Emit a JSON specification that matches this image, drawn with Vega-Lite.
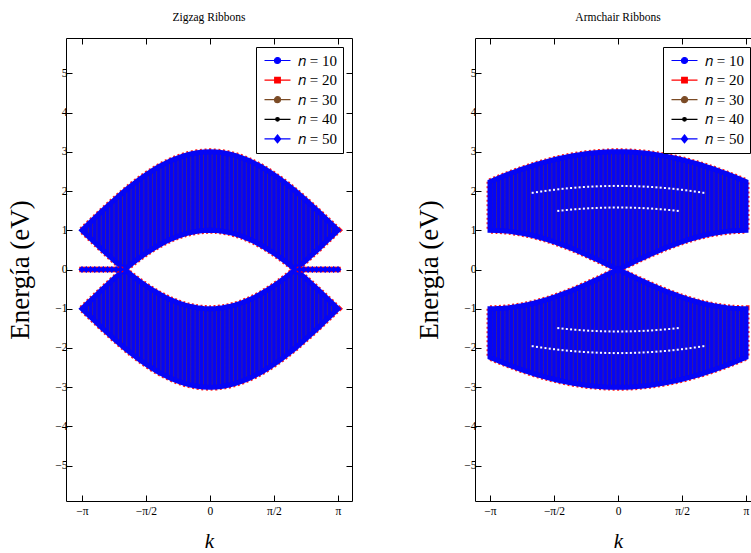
{
  "$schema": "https://vega.github.io/schema/vega-lite/v6.json",
  "background": "white",
  "padding": {"left": 6, "top": 12, "right": 0, "bottom": 0},
  "spacing": 62,
  "config": {
    "view": {"stroke": null},
    "font": "Liberation Serif",
    "axis": {"grid": false, "domainColor": "#000", "domainWidth": 1, "tickColor": "#000", "tickWidth": 1, "labelColor": "#000", "titleColor": "#000", "labelFontSize": 11.5, "titleFontWeight": "normal", "labelFont": "Liberation Serif", "titleFont": "Liberation Serif"},
    "title": {"font": "Liberation Serif", "fontSize": 11.5, "fontWeight": "normal", "color": "#000", "offset": 14},
    "legend": {"padding": 6, "rowPadding": 3.6, "strokeColor": "#000", "strokeWidth": 1, "fillColor": "#fff", "labelFont": "Liberation Serif", "labelFontSize": 15, "labelColor": "#000", "symbolSize": 64, "symbolStrokeWidth": 1.2, "symbolOpacity": 1, "labelOffset": 21},
    "area": {
      "fill": {"gradient": "linear", "x1": 0, "y1": 0, "x2": 1, "y2": 0, "stops": [
          {"offset": 0.0, "color": "#0505f5"},
          {"offset": 0.0048, "color": "#0505f5"}, {"offset": 0.0083, "color": "#3a1f8f"}, {"offset": 0.0118, "color": "#0505f5"},
          {"offset": 0.0215, "color": "#0505f5"}, {"offset": 0.0250, "color": "#3a1f8f"}, {"offset": 0.0285, "color": "#0505f5"},
          {"offset": 0.0382, "color": "#0505f5"}, {"offset": 0.0417, "color": "#3a1f8f"}, {"offset": 0.0452, "color": "#0505f5"},
          {"offset": 0.0548, "color": "#0505f5"}, {"offset": 0.0583, "color": "#3a1f8f"}, {"offset": 0.0618, "color": "#0505f5"},
          {"offset": 0.0715, "color": "#0505f5"}, {"offset": 0.0750, "color": "#3a1f8f"}, {"offset": 0.0785, "color": "#0505f5"},
          {"offset": 0.0882, "color": "#0505f5"}, {"offset": 0.0917, "color": "#3a1f8f"}, {"offset": 0.0952, "color": "#0505f5"},
          {"offset": 0.1048, "color": "#0505f5"}, {"offset": 0.1083, "color": "#3a1f8f"}, {"offset": 0.1118, "color": "#0505f5"},
          {"offset": 0.1215, "color": "#0505f5"}, {"offset": 0.1250, "color": "#3a1f8f"}, {"offset": 0.1285, "color": "#0505f5"},
          {"offset": 0.1382, "color": "#0505f5"}, {"offset": 0.1417, "color": "#3a1f8f"}, {"offset": 0.1452, "color": "#0505f5"},
          {"offset": 0.1548, "color": "#0505f5"}, {"offset": 0.1583, "color": "#3a1f8f"}, {"offset": 0.1618, "color": "#0505f5"},
          {"offset": 0.1715, "color": "#0505f5"}, {"offset": 0.1750, "color": "#3a1f8f"}, {"offset": 0.1785, "color": "#0505f5"},
          {"offset": 0.1882, "color": "#0505f5"}, {"offset": 0.1917, "color": "#3a1f8f"}, {"offset": 0.1952, "color": "#0505f5"},
          {"offset": 0.2048, "color": "#0505f5"}, {"offset": 0.2083, "color": "#3a1f8f"}, {"offset": 0.2118, "color": "#0505f5"},
          {"offset": 0.2215, "color": "#0505f5"}, {"offset": 0.2250, "color": "#3a1f8f"}, {"offset": 0.2285, "color": "#0505f5"},
          {"offset": 0.2382, "color": "#0505f5"}, {"offset": 0.2417, "color": "#3a1f8f"}, {"offset": 0.2452, "color": "#0505f5"},
          {"offset": 0.2548, "color": "#0505f5"}, {"offset": 0.2583, "color": "#3a1f8f"}, {"offset": 0.2618, "color": "#0505f5"},
          {"offset": 0.2715, "color": "#0505f5"}, {"offset": 0.2750, "color": "#3a1f8f"}, {"offset": 0.2785, "color": "#0505f5"},
          {"offset": 0.2882, "color": "#0505f5"}, {"offset": 0.2917, "color": "#3a1f8f"}, {"offset": 0.2952, "color": "#0505f5"},
          {"offset": 0.3048, "color": "#0505f5"}, {"offset": 0.3083, "color": "#3a1f8f"}, {"offset": 0.3118, "color": "#0505f5"},
          {"offset": 0.3215, "color": "#0505f5"}, {"offset": 0.3250, "color": "#3a1f8f"}, {"offset": 0.3285, "color": "#0505f5"},
          {"offset": 0.3382, "color": "#0505f5"}, {"offset": 0.3417, "color": "#3a1f8f"}, {"offset": 0.3452, "color": "#0505f5"},
          {"offset": 0.3548, "color": "#0505f5"}, {"offset": 0.3583, "color": "#3a1f8f"}, {"offset": 0.3618, "color": "#0505f5"},
          {"offset": 0.3715, "color": "#0505f5"}, {"offset": 0.3750, "color": "#3a1f8f"}, {"offset": 0.3785, "color": "#0505f5"},
          {"offset": 0.3882, "color": "#0505f5"}, {"offset": 0.3917, "color": "#3a1f8f"}, {"offset": 0.3952, "color": "#0505f5"},
          {"offset": 0.4048, "color": "#0505f5"}, {"offset": 0.4083, "color": "#3a1f8f"}, {"offset": 0.4118, "color": "#0505f5"},
          {"offset": 0.4215, "color": "#0505f5"}, {"offset": 0.4250, "color": "#3a1f8f"}, {"offset": 0.4285, "color": "#0505f5"},
          {"offset": 0.4382, "color": "#0505f5"}, {"offset": 0.4417, "color": "#3a1f8f"}, {"offset": 0.4452, "color": "#0505f5"},
          {"offset": 0.4548, "color": "#0505f5"}, {"offset": 0.4583, "color": "#3a1f8f"}, {"offset": 0.4618, "color": "#0505f5"},
          {"offset": 0.4715, "color": "#0505f5"}, {"offset": 0.4750, "color": "#3a1f8f"}, {"offset": 0.4785, "color": "#0505f5"},
          {"offset": 0.4882, "color": "#0505f5"}, {"offset": 0.4917, "color": "#3a1f8f"}, {"offset": 0.4952, "color": "#0505f5"},
          {"offset": 0.5048, "color": "#0505f5"}, {"offset": 0.5083, "color": "#3a1f8f"}, {"offset": 0.5118, "color": "#0505f5"},
          {"offset": 0.5215, "color": "#0505f5"}, {"offset": 0.5250, "color": "#3a1f8f"}, {"offset": 0.5285, "color": "#0505f5"},
          {"offset": 0.5382, "color": "#0505f5"}, {"offset": 0.5417, "color": "#3a1f8f"}, {"offset": 0.5452, "color": "#0505f5"},
          {"offset": 0.5548, "color": "#0505f5"}, {"offset": 0.5583, "color": "#3a1f8f"}, {"offset": 0.5618, "color": "#0505f5"},
          {"offset": 0.5715, "color": "#0505f5"}, {"offset": 0.5750, "color": "#3a1f8f"}, {"offset": 0.5785, "color": "#0505f5"},
          {"offset": 0.5882, "color": "#0505f5"}, {"offset": 0.5917, "color": "#3a1f8f"}, {"offset": 0.5952, "color": "#0505f5"},
          {"offset": 0.6048, "color": "#0505f5"}, {"offset": 0.6083, "color": "#3a1f8f"}, {"offset": 0.6118, "color": "#0505f5"},
          {"offset": 0.6215, "color": "#0505f5"}, {"offset": 0.6250, "color": "#3a1f8f"}, {"offset": 0.6285, "color": "#0505f5"},
          {"offset": 0.6382, "color": "#0505f5"}, {"offset": 0.6417, "color": "#3a1f8f"}, {"offset": 0.6452, "color": "#0505f5"},
          {"offset": 0.6548, "color": "#0505f5"}, {"offset": 0.6583, "color": "#3a1f8f"}, {"offset": 0.6618, "color": "#0505f5"},
          {"offset": 0.6715, "color": "#0505f5"}, {"offset": 0.6750, "color": "#3a1f8f"}, {"offset": 0.6785, "color": "#0505f5"},
          {"offset": 0.6882, "color": "#0505f5"}, {"offset": 0.6917, "color": "#3a1f8f"}, {"offset": 0.6952, "color": "#0505f5"},
          {"offset": 0.7048, "color": "#0505f5"}, {"offset": 0.7083, "color": "#3a1f8f"}, {"offset": 0.7118, "color": "#0505f5"},
          {"offset": 0.7215, "color": "#0505f5"}, {"offset": 0.7250, "color": "#3a1f8f"}, {"offset": 0.7285, "color": "#0505f5"},
          {"offset": 0.7382, "color": "#0505f5"}, {"offset": 0.7417, "color": "#3a1f8f"}, {"offset": 0.7452, "color": "#0505f5"},
          {"offset": 0.7548, "color": "#0505f5"}, {"offset": 0.7583, "color": "#3a1f8f"}, {"offset": 0.7618, "color": "#0505f5"},
          {"offset": 0.7715, "color": "#0505f5"}, {"offset": 0.7750, "color": "#3a1f8f"}, {"offset": 0.7785, "color": "#0505f5"},
          {"offset": 0.7882, "color": "#0505f5"}, {"offset": 0.7917, "color": "#3a1f8f"}, {"offset": 0.7952, "color": "#0505f5"},
          {"offset": 0.8048, "color": "#0505f5"}, {"offset": 0.8083, "color": "#3a1f8f"}, {"offset": 0.8118, "color": "#0505f5"},
          {"offset": 0.8215, "color": "#0505f5"}, {"offset": 0.8250, "color": "#3a1f8f"}, {"offset": 0.8285, "color": "#0505f5"},
          {"offset": 0.8382, "color": "#0505f5"}, {"offset": 0.8417, "color": "#3a1f8f"}, {"offset": 0.8452, "color": "#0505f5"},
          {"offset": 0.8548, "color": "#0505f5"}, {"offset": 0.8583, "color": "#3a1f8f"}, {"offset": 0.8618, "color": "#0505f5"},
          {"offset": 0.8715, "color": "#0505f5"}, {"offset": 0.8750, "color": "#3a1f8f"}, {"offset": 0.8785, "color": "#0505f5"},
          {"offset": 0.8882, "color": "#0505f5"}, {"offset": 0.8917, "color": "#3a1f8f"}, {"offset": 0.8952, "color": "#0505f5"},
          {"offset": 0.9048, "color": "#0505f5"}, {"offset": 0.9083, "color": "#3a1f8f"}, {"offset": 0.9118, "color": "#0505f5"},
          {"offset": 0.9215, "color": "#0505f5"}, {"offset": 0.9250, "color": "#3a1f8f"}, {"offset": 0.9285, "color": "#0505f5"},
          {"offset": 0.9382, "color": "#0505f5"}, {"offset": 0.9417, "color": "#3a1f8f"}, {"offset": 0.9452, "color": "#0505f5"},
          {"offset": 0.9548, "color": "#0505f5"}, {"offset": 0.9583, "color": "#3a1f8f"}, {"offset": 0.9618, "color": "#0505f5"},
          {"offset": 0.9715, "color": "#0505f5"}, {"offset": 0.9750, "color": "#3a1f8f"}, {"offset": 0.9785, "color": "#0505f5"},
          {"offset": 0.9882, "color": "#0505f5"}, {"offset": 0.9917, "color": "#3a1f8f"}, {"offset": 0.9952, "color": "#0505f5"},
          {"offset": 1.0, "color": "#0505f5"}
        ]}
    }
  },
  "datasets": {
    "zz": [
      {"k": -3.1416, "a": 1.000, "b": 1.000, "c": -1.000, "d": -1.000},
      {"k": -2.9845, "a": 1.157, "b": 0.843, "c": -0.843, "d": -1.157},
      {"k": -2.8274, "a": 1.313, "b": 0.687, "c": -0.687, "d": -1.313},
      {"k": -2.6704, "a": 1.467, "b": 0.533, "c": -0.533, "d": -1.467},
      {"k": -2.5133, "a": 1.618, "b": 0.382, "c": -0.382, "d": -1.618},
      {"k": -2.3562, "a": 1.765, "b": 0.235, "c": -0.235, "d": -1.765},
      {"k": -2.1991, "a": 1.908, "b": 0.092, "c": -0.092, "d": -1.908},
      {"k": -2.0944, "a": 2.000, "b": 0.000, "c": 0.000, "d": -2.000},
      {"k": -2.0420, "a": 2.045, "b": 0.045, "c": -0.045, "d": -2.045},
      {"k": -1.8850, "a": 2.176, "b": 0.176, "c": -0.176, "d": -2.176},
      {"k": -1.7279, "a": 2.299, "b": 0.299, "c": -0.299, "d": -2.299},
      {"k": -1.5708, "a": 2.414, "b": 0.414, "c": -0.414, "d": -2.414},
      {"k": -1.4137, "a": 2.521, "b": 0.521, "c": -0.521, "d": -2.521},
      {"k": -1.2566, "a": 2.618, "b": 0.618, "c": -0.618, "d": -2.618},
      {"k": -1.0996, "a": 2.705, "b": 0.705, "c": -0.705, "d": -2.705},
      {"k": -0.9425, "a": 2.782, "b": 0.782, "c": -0.782, "d": -2.782},
      {"k": -0.7854, "a": 2.848, "b": 0.848, "c": -0.848, "d": -2.848},
      {"k": -0.6283, "a": 2.902, "b": 0.902, "c": -0.902, "d": -2.902},
      {"k": -0.4712, "a": 2.945, "b": 0.945, "c": -0.945, "d": -2.945},
      {"k": -0.3142, "a": 2.975, "b": 0.975, "c": -0.975, "d": -2.975},
      {"k": -0.1571, "a": 2.994, "b": 0.994, "c": -0.994, "d": -2.994},
      {"k": 0.0, "a": 3.000, "b": 1.000, "c": -1.000, "d": -3.000},
      {"k": 0.1571, "a": 2.994, "b": 0.994, "c": -0.994, "d": -2.994},
      {"k": 0.3142, "a": 2.975, "b": 0.975, "c": -0.975, "d": -2.975},
      {"k": 0.4712, "a": 2.945, "b": 0.945, "c": -0.945, "d": -2.945},
      {"k": 0.6283, "a": 2.902, "b": 0.902, "c": -0.902, "d": -2.902},
      {"k": 0.7854, "a": 2.848, "b": 0.848, "c": -0.848, "d": -2.848},
      {"k": 0.9425, "a": 2.782, "b": 0.782, "c": -0.782, "d": -2.782},
      {"k": 1.0996, "a": 2.705, "b": 0.705, "c": -0.705, "d": -2.705},
      {"k": 1.2566, "a": 2.618, "b": 0.618, "c": -0.618, "d": -2.618},
      {"k": 1.4137, "a": 2.521, "b": 0.521, "c": -0.521, "d": -2.521},
      {"k": 1.5708, "a": 2.414, "b": 0.414, "c": -0.414, "d": -2.414},
      {"k": 1.7279, "a": 2.299, "b": 0.299, "c": -0.299, "d": -2.299},
      {"k": 1.8850, "a": 2.176, "b": 0.176, "c": -0.176, "d": -2.176},
      {"k": 2.0420, "a": 2.045, "b": 0.045, "c": -0.045, "d": -2.045},
      {"k": 2.0944, "a": 2.000, "b": 0.000, "c": 0.000, "d": -2.000},
      {"k": 2.1991, "a": 1.908, "b": 0.092, "c": -0.092, "d": -1.908},
      {"k": 2.3562, "a": 1.765, "b": 0.235, "c": -0.235, "d": -1.765},
      {"k": 2.5133, "a": 1.618, "b": 0.382, "c": -0.382, "d": -1.618},
      {"k": 2.6704, "a": 1.467, "b": 0.533, "c": -0.533, "d": -1.467},
      {"k": 2.8274, "a": 1.313, "b": 0.687, "c": -0.687, "d": -1.313},
      {"k": 2.9845, "a": 1.157, "b": 0.843, "c": -0.843, "d": -1.157},
      {"k": 3.1416, "a": 1.000, "b": 1.000, "c": -1.000, "d": -1.000}
    ],
    "ac": [
      {"k": -3.1416, "a": 2.236, "b": 1.000, "c": -1.000, "d": -2.236},
      {"k": -2.9845, "a": 2.305, "b": 0.997, "c": -0.997, "d": -2.305},
      {"k": -2.8274, "a": 2.372, "b": 0.988, "c": -0.988, "d": -2.372},
      {"k": -2.6704, "a": 2.436, "b": 0.972, "c": -0.972, "d": -2.436},
      {"k": -2.5133, "a": 2.497, "b": 0.951, "c": -0.951, "d": -2.497},
      {"k": -2.3562, "a": 2.556, "b": 0.924, "c": -0.924, "d": -2.556},
      {"k": -2.1991, "a": 2.611, "b": 0.891, "c": -0.891, "d": -2.611},
      {"k": -2.0420, "a": 2.663, "b": 0.853, "c": -0.853, "d": -2.663},
      {"k": -1.8850, "a": 2.711, "b": 0.809, "c": -0.809, "d": -2.711},
      {"k": -1.7279, "a": 2.756, "b": 0.760, "c": -0.760, "d": -2.756},
      {"k": -1.5708, "a": 2.798, "b": 0.707, "c": -0.707, "d": -2.798},
      {"k": -1.4137, "a": 2.836, "b": 0.649, "c": -0.649, "d": -2.836},
      {"k": -1.2566, "a": 2.870, "b": 0.588, "c": -0.588, "d": -2.870},
      {"k": -1.0996, "a": 2.900, "b": 0.523, "c": -0.523, "d": -2.900},
      {"k": -0.9425, "a": 2.926, "b": 0.454, "c": -0.454, "d": -2.926},
      {"k": -0.7854, "a": 2.949, "b": 0.383, "c": -0.383, "d": -2.949},
      {"k": -0.6283, "a": 2.967, "b": 0.309, "c": -0.309, "d": -2.967},
      {"k": -0.4712, "a": 2.982, "b": 0.233, "c": -0.233, "d": -2.982},
      {"k": -0.3142, "a": 2.992, "b": 0.156, "c": -0.156, "d": -2.992},
      {"k": -0.1571, "a": 2.998, "b": 0.078, "c": -0.078, "d": -2.998},
      {"k": 0.0, "a": 3.000, "b": 0.000, "c": 0.000, "d": -3.000},
      {"k": 0.1571, "a": 2.998, "b": 0.078, "c": -0.078, "d": -2.998},
      {"k": 0.3142, "a": 2.992, "b": 0.156, "c": -0.156, "d": -2.992},
      {"k": 0.4712, "a": 2.982, "b": 0.233, "c": -0.233, "d": -2.982},
      {"k": 0.6283, "a": 2.967, "b": 0.309, "c": -0.309, "d": -2.967},
      {"k": 0.7854, "a": 2.949, "b": 0.383, "c": -0.383, "d": -2.949},
      {"k": 0.9425, "a": 2.926, "b": 0.454, "c": -0.454, "d": -2.926},
      {"k": 1.0996, "a": 2.900, "b": 0.523, "c": -0.523, "d": -2.900},
      {"k": 1.2566, "a": 2.870, "b": 0.588, "c": -0.588, "d": -2.870},
      {"k": 1.4137, "a": 2.836, "b": 0.649, "c": -0.649, "d": -2.836},
      {"k": 1.5708, "a": 2.798, "b": 0.707, "c": -0.707, "d": -2.798},
      {"k": 1.7279, "a": 2.756, "b": 0.760, "c": -0.760, "d": -2.756},
      {"k": 1.8850, "a": 2.711, "b": 0.809, "c": -0.809, "d": -2.711},
      {"k": 2.0420, "a": 2.663, "b": 0.853, "c": -0.853, "d": -2.663},
      {"k": 2.1991, "a": 2.611, "b": 0.891, "c": -0.891, "d": -2.611},
      {"k": 2.3562, "a": 2.556, "b": 0.924, "c": -0.924, "d": -2.556},
      {"k": 2.5133, "a": 2.497, "b": 0.951, "c": -0.951, "d": -2.497},
      {"k": 2.6704, "a": 2.436, "b": 0.972, "c": -0.972, "d": -2.436},
      {"k": 2.8274, "a": 2.372, "b": 0.988, "c": -0.988, "d": -2.372},
      {"k": 2.9845, "a": 2.305, "b": 0.997, "c": -0.997, "d": -2.305},
      {"k": 3.1416, "a": 2.236, "b": 1.000, "c": -1.000, "d": -2.236}
    ],
    "flat": [
      {"k": -3.1416, "e": 0}, {"k": -3.0369, "e": 0}, {"k": -2.9322, "e": 0}, {"k": -2.8274, "e": 0}, {"k": -2.7227, "e": 0},
      {"k": -2.6180, "e": 0}, {"k": -2.5133, "e": 0}, {"k": -2.4086, "e": 0}, {"k": -2.3038, "e": 0}, {"k": -2.1991, "e": 0},
      {"k": 2.1991, "e": 0}, {"k": 2.3038, "e": 0}, {"k": 2.4086, "e": 0}, {"k": 2.5133, "e": 0}, {"k": 2.6180, "e": 0},
      {"k": 2.7227, "e": 0}, {"k": 2.8274, "e": 0}, {"k": 2.9322, "e": 0}, {"k": 3.0369, "e": 0}, {"k": 3.1416, "e": 0}
    ],
    "wd": [
      {"k": -2.0944, "a": 1.955, "na": -1.955},
      {"k": -1.9897, "a": 1.972, "na": -1.972},
      {"k": -1.8850, "a": 1.988, "na": -1.988},
      {"k": -1.7802, "a": 2.003, "na": -2.003},
      {"k": -1.6755, "a": 2.018, "na": -2.018},
      {"k": -1.5708, "a": 2.031, "na": -2.031},
      {"k": -1.4661, "a": 2.044, "b": 1.494, "na": -2.044, "nb": -1.494},
      {"k": -1.3614, "a": 2.056, "b": 1.506, "na": -2.056, "nb": -1.506},
      {"k": -1.2566, "a": 2.067, "b": 1.517, "na": -2.067, "nb": -1.517},
      {"k": -1.1519, "a": 2.077, "b": 1.527, "na": -2.077, "nb": -1.527},
      {"k": -1.0472, "a": 2.086, "b": 1.536, "na": -2.086, "nb": -1.536},
      {"k": -0.9425, "a": 2.094, "b": 1.544, "na": -2.094, "nb": -1.544},
      {"k": -0.8378, "a": 2.102, "b": 1.552, "na": -2.102, "nb": -1.552},
      {"k": -0.7330, "a": 2.109, "b": 1.559, "na": -2.109, "nb": -1.559},
      {"k": -0.6283, "a": 2.114, "b": 1.564, "na": -2.114, "nb": -1.564},
      {"k": -0.5236, "a": 2.119, "b": 1.569, "na": -2.119, "nb": -1.569},
      {"k": -0.4189, "a": 2.123, "b": 1.573, "na": -2.123, "nb": -1.573},
      {"k": -0.3142, "a": 2.126, "b": 1.576, "na": -2.126, "nb": -1.576},
      {"k": -0.2094, "a": 2.128, "b": 1.578, "na": -2.128, "nb": -1.578},
      {"k": -0.1047, "a": 2.130, "b": 1.580, "na": -2.130, "nb": -1.580},
      {"k": 0.0, "a": 2.130, "b": 1.580, "na": -2.130, "nb": -1.580},
      {"k": 0.1047, "a": 2.130, "b": 1.580, "na": -2.130, "nb": -1.580},
      {"k": 0.2094, "a": 2.128, "b": 1.578, "na": -2.128, "nb": -1.578},
      {"k": 0.3142, "a": 2.126, "b": 1.576, "na": -2.126, "nb": -1.576},
      {"k": 0.4189, "a": 2.123, "b": 1.573, "na": -2.123, "nb": -1.573},
      {"k": 0.5236, "a": 2.119, "b": 1.569, "na": -2.119, "nb": -1.569},
      {"k": 0.6283, "a": 2.114, "b": 1.564, "na": -2.114, "nb": -1.564},
      {"k": 0.7330, "a": 2.109, "b": 1.559, "na": -2.109, "nb": -1.559},
      {"k": 0.8378, "a": 2.102, "b": 1.552, "na": -2.102, "nb": -1.552},
      {"k": 0.9425, "a": 2.094, "b": 1.544, "na": -2.094, "nb": -1.544},
      {"k": 1.0472, "a": 2.086, "b": 1.536, "na": -2.086, "nb": -1.536},
      {"k": 1.1519, "a": 2.077, "b": 1.527, "na": -2.077, "nb": -1.527},
      {"k": 1.2566, "a": 2.067, "b": 1.517, "na": -2.067, "nb": -1.517},
      {"k": 1.3614, "a": 2.056, "b": 1.506, "na": -2.056, "nb": -1.506},
      {"k": 1.4661, "a": 2.044, "b": 1.494, "na": -2.044, "nb": -1.494},
      {"k": 1.5708, "a": 2.031, "na": -2.031},
      {"k": 1.6755, "a": 2.018, "na": -2.018},
      {"k": 1.7802, "a": 2.003, "na": -2.003},
      {"k": 1.8850, "a": 1.988, "na": -1.988},
      {"k": 1.9897, "a": 1.972, "na": -1.972},
      {"k": 2.0944, "a": 1.955, "na": -1.955}
    ],
    "leg": [{"n": "10"}, {"n": "20"}, {"n": "30"}, {"n": "40"}, {"n": "50"}]
  },
  "resolve": {"scale": {"fill": "independent", "stroke": "independent", "shape": "independent"}},
  "hconcat": [
    {
      "title": {"text": "Zigzag Ribbons"},
      "width": 286,
      "height": 463,
      "resolve": {"axis": {"x": "independent", "y": "independent"}},
      "layer": [
        {
          "data": {"name": "zz"},
          "mark": {"type": "area", "fill": "transparent", "stroke": "#ff1a1a", "strokeWidth": 7, "strokeDash": [2, 2.5]},
          "encoding": {
            "x": {"field": "k", "type": "quantitative", "scale": {"domain": [-3.534, 3.486], "nice": false, "zero": false},
              "axis": {"orient": "bottom", "values": [-3.14159, -1.5708, 0, 1.5708, 3.14159], "tickSize": -6, "labelPadding": 10, "labelExpr": "datum.value < -3 ? '−π' : datum.value < -1 ? '−π/2' : datum.value < 1 ? '0' : datum.value < 3 ? 'π/2' : 'π'", "title": "k", "titleFontStyle": "italic", "titleFontSize": 21, "titlePadding": 14}},
            "y": {"field": "a", "type": "quantitative", "scale": {"domain": [-5.9, 5.9], "nice": false, "zero": false},
              "axis": {"orient": "left", "values": [-5, -4, -3, -2, -1, 0, 1, 2, 3, 4, 5], "tickSize": -6, "labelPadding": 5, "title": "Energía (eV)", "titleFontSize": 27, "titlePadding": 20}},
            "y2": {"field": "b"}
          }
        },
        {
          "data": {"name": "zz"},
          "mark": {"type": "area", "fill": "transparent", "stroke": "#ff1a1a", "strokeWidth": 7, "strokeDash": [2, 2.5]},
          "encoding": {
            "x": {"field": "k", "type": "quantitative", "axis": null},
            "y": {"field": "c", "type": "quantitative", "axis": null},
            "y2": {"field": "d"}
          }
        },
        {
          "data": {"name": "zz"},
          "mark": {"type": "area", "stroke": "#0505f5", "strokeWidth": 5},
          "encoding": {
            "x": {"field": "k", "type": "quantitative", "axis": null},
            "y": {"field": "a", "type": "quantitative", "axis": null},
            "y2": {"field": "b"}
          }
        },
        {
          "data": {"name": "zz"},
          "mark": {"type": "area", "stroke": "#0505f5", "strokeWidth": 5},
          "encoding": {
            "x": {"field": "k", "type": "quantitative", "axis": null},
            "y": {"field": "c", "type": "quantitative", "axis": null},
            "y2": {"field": "d"}
          }
        },
        {
          "data": {"name": "flat"},
          "mark": {"type": "point", "shape": "square", "filled": true, "color": "#ff0000", "size": 30, "opacity": 1},
          "encoding": {
            "x": {"field": "k", "type": "quantitative", "axis": null},
            "y": {"field": "e", "type": "quantitative", "axis": null}
          }
        },
        {
          "data": {"name": "flat"},
          "mark": {"type": "point", "shape": "diamond", "filled": true, "color": "#0000ff", "size": 50, "opacity": 1},
          "encoding": {
            "x": {"field": "k", "type": "quantitative",
              "axis": {"orient": "top", "values": [-3.14159, -1.5708, 0, 1.5708, 3.14159], "tickSize": -6, "labels": false, "title": null}},
            "y": {"field": "e", "type": "quantitative",
              "axis": {"orient": "right", "values": [-5, -4, -3, -2, -1, 0, 1, 2, 3, 4, 5], "tickSize": -6, "labels": false, "title": null}}
          }
        },
        {
          "data": {"name": "leg"},
          "mark": {"type": "point", "filled": true, "opacity": 0, "strokeWidth": 1.2},
          "encoding": {
            "fill": {"field": "n", "type": "nominal", "scale": {"domain": ["10", "20", "30", "40", "50"], "range": ["#0000ff", "#ff0000", "#7b4b26", "#000000", "#0000ff"]},
              "legend": {"title": null, "orient": "none", "legendX": 190, "legendY": 9, "labelFont": "Liberation Serif", "labelExpr": "'𝑛 = ' + datum.label"}},
            "stroke": {"field": "n", "type": "nominal", "scale": {"domain": ["10", "20", "30", "40", "50"], "range": ["#0000ff", "#ff0000", "#7b4b26", "#000000", "#0000ff"]},
              "legend": {"title": null, "orient": "none", "legendX": 190, "legendY": 9, "labelFont": "Liberation Serif", "labelExpr": "'𝑛 = ' + datum.label"}},
            "shape": {"field": "n", "type": "nominal", "scale": {"domain": ["10", "20", "30", "40", "50"], "range": [
                "M-1.25,0H5.25M2.75,0A0.75,0.75,0,1,1,1.25,0A0.75,0.75,0,1,1,2.75,0Z",
                "M-1.25,0H5.25M1.3,-0.7H2.7V0.7H1.3Z",
                "M-1.25,0H5.25M2.75,0A0.75,0.75,0,1,1,1.25,0A0.75,0.75,0,1,1,2.75,0Z",
                "M-1.25,0H5.25M2.45,0A0.45,0.45,0,1,1,1.55,0A0.45,0.45,0,1,1,2.45,0Z",
                "M-1.25,0H5.25M2,-1L2.8,0L2,1L1.2,0Z"]},
              "legend": {"title": null, "orient": "none", "legendX": 190, "legendY": 9, "labelFont": "Liberation Serif", "labelExpr": "'𝑛 = ' + datum.label"}}
          }
        }
      ]
    },
    {
      "title": {"text": "Armchair Ribbons", "dx": 3.5},
      "width": 279,
      "height": 463,
      "resolve": {"axis": {"x": "independent", "y": "independent"}},
      "layer": [
        {
          "data": {"name": "ac"},
          "mark": {"type": "area", "fill": "transparent", "stroke": "#ff1a1a", "strokeWidth": 7, "strokeDash": [2, 2.5]},
          "encoding": {
            "x": {"field": "k", "type": "quantitative", "scale": {"domain": [-3.51, 3.338], "nice": false, "zero": false},
              "axis": {"orient": "bottom", "values": [-3.14159, -1.5708, 0, 1.5708, 3.14159], "tickSize": -6, "labelPadding": 10, "labelExpr": "datum.value < -3 ? '−π' : datum.value < -1 ? '−π/2' : datum.value < 1 ? '0' : datum.value < 3 ? 'π/2' : 'π'", "title": "k", "titleFontStyle": "italic", "titleFontSize": 21, "titlePadding": 14, "titleX": 143}},
            "y": {"field": "a", "type": "quantitative", "scale": {"domain": [-5.9, 5.9], "nice": false, "zero": false},
              "axis": {"orient": "left", "values": [-5, -4, -3, -2, -1, 0, 1, 2, 3, 4, 5], "tickSize": -6, "labelPadding": 5, "title": "Energía (eV)", "titleFontSize": 27, "titlePadding": 20}},
            "y2": {"field": "b"}
          }
        },
        {
          "data": {"name": "ac"},
          "mark": {"type": "area", "fill": "transparent", "stroke": "#ff1a1a", "strokeWidth": 7, "strokeDash": [2, 2.5]},
          "encoding": {
            "x": {"field": "k", "type": "quantitative", "axis": null},
            "y": {"field": "c", "type": "quantitative", "axis": null},
            "y2": {"field": "d"}
          }
        },
        {
          "data": {"name": "ac"},
          "mark": {"type": "area", "stroke": "#0505f5", "strokeWidth": 5},
          "encoding": {
            "x": {"field": "k", "type": "quantitative", "axis": null},
            "y": {"field": "a", "type": "quantitative", "axis": null},
            "y2": {"field": "b"}
          }
        },
        {
          "data": {"name": "ac"},
          "mark": {"type": "area", "stroke": "#0505f5", "strokeWidth": 5},
          "encoding": {
            "x": {"field": "k", "type": "quantitative", "axis": null},
            "y": {"field": "c", "type": "quantitative", "axis": null},
            "y2": {"field": "d"}
          }
        },
        {
          "data": {"name": "wd"},
          "mark": {"type": "point", "shape": "square", "filled": true, "color": "#ffffff", "size": 4, "opacity": 1},
          "encoding": {
            "x": {"field": "k", "type": "quantitative", "axis": null},
            "y": {"field": "a", "type": "quantitative", "axis": null}
          }
        },
        {
          "data": {"name": "wd"},
          "mark": {"type": "point", "shape": "square", "filled": true, "color": "#ffffff", "size": 4, "opacity": 1},
          "encoding": {
            "x": {"field": "k", "type": "quantitative", "axis": null},
            "y": {"field": "b", "type": "quantitative", "axis": null}
          }
        },
        {
          "data": {"name": "wd"},
          "mark": {"type": "point", "shape": "square", "filled": true, "color": "#ffffff", "size": 4, "opacity": 1},
          "encoding": {
            "x": {"field": "k", "type": "quantitative", "axis": null},
            "y": {"field": "na", "type": "quantitative", "axis": null}
          }
        },
        {
          "data": {"name": "wd"},
          "mark": {"type": "point", "shape": "square", "filled": true, "color": "#ffffff", "size": 4, "opacity": 1},
          "encoding": {
            "x": {"field": "k", "type": "quantitative",
              "axis": {"orient": "top", "values": [-3.14159, -1.5708, 0, 1.5708, 3.14159], "tickSize": -6, "labels": false, "title": null}},
            "y": {"field": "nb", "type": "quantitative", "axis": null}
          }
        },
        {
          "data": {"name": "leg"},
          "mark": {"type": "point", "filled": true, "opacity": 0, "strokeWidth": 1.2},
          "encoding": {
            "fill": {"field": "n", "type": "nominal", "scale": {"domain": ["10", "20", "30", "40", "50"], "range": ["#0000ff", "#ff0000", "#7b4b26", "#000000", "#0000ff"]},
              "legend": {"title": null, "orient": "none", "legendX": 188, "legendY": 9, "labelFont": "Liberation Serif", "labelExpr": "'𝑛 = ' + datum.label"}},
            "stroke": {"field": "n", "type": "nominal", "scale": {"domain": ["10", "20", "30", "40", "50"], "range": ["#0000ff", "#ff0000", "#7b4b26", "#000000", "#0000ff"]},
              "legend": {"title": null, "orient": "none", "legendX": 188, "legendY": 9, "labelFont": "Liberation Serif", "labelExpr": "'𝑛 = ' + datum.label"}},
            "shape": {"field": "n", "type": "nominal", "scale": {"domain": ["10", "20", "30", "40", "50"], "range": [
                "M-1.25,0H5.25M2.75,0A0.75,0.75,0,1,1,1.25,0A0.75,0.75,0,1,1,2.75,0Z",
                "M-1.25,0H5.25M1.3,-0.7H2.7V0.7H1.3Z",
                "M-1.25,0H5.25M2.75,0A0.75,0.75,0,1,1,1.25,0A0.75,0.75,0,1,1,2.75,0Z",
                "M-1.25,0H5.25M2.45,0A0.45,0.45,0,1,1,1.55,0A0.45,0.45,0,1,1,2.45,0Z",
                "M-1.25,0H5.25M2,-1L2.8,0L2,1L1.2,0Z"]},
              "legend": {"title": null, "orient": "none", "legendX": 188, "legendY": 9, "labelFont": "Liberation Serif", "labelExpr": "'𝑛 = ' + datum.label"}}
          }
        }
      ]
    }
  ]
}
